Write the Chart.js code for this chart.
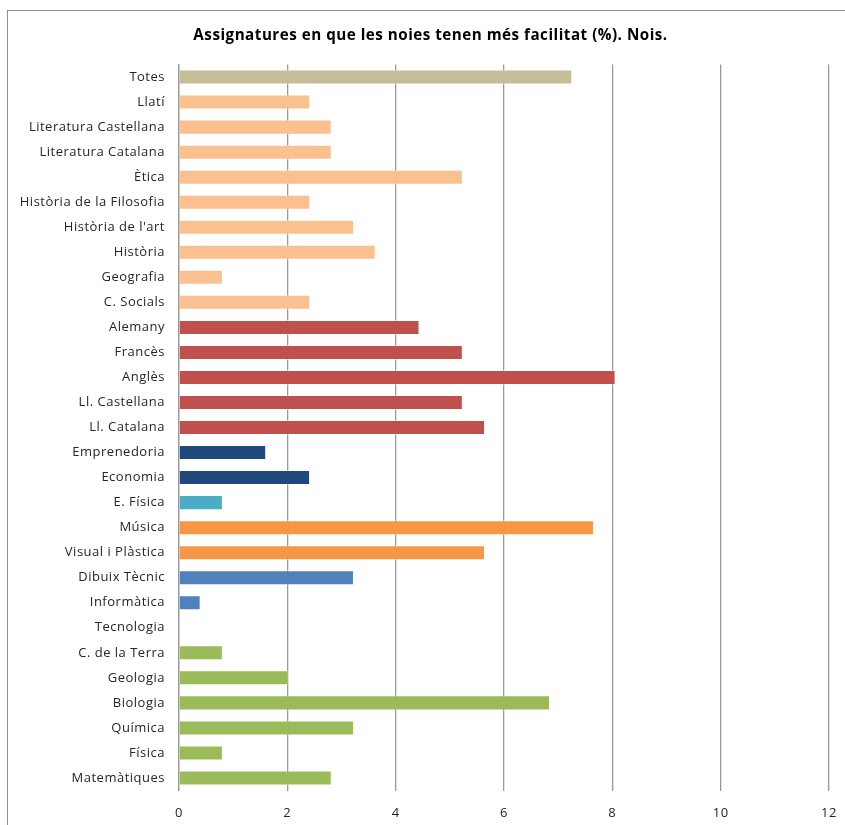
<!DOCTYPE html>
<html>
<head>
<meta charset="utf-8">
<script src="https://cdn.jsdelivr.net/npm/chart.js@4/dist/chart.umd.min.js"></script>
<style>
  html, body { margin: 0; padding: 0; background: #fff; }
  #wrap { position: relative; width: 845px; height: 825px; overflow: hidden; }
  #frame { position: absolute; left: 7px; top: 10px; width: 900px; height: 900px; border: 1px solid #8f8f8f; box-sizing: border-box; }
  canvas { position: absolute; left: 0; top: 0; }
</style>
</head>
<body>
<div id="wrap">
  <div id="frame"></div>
  <canvas id="c" width="845" height="825"></canvas>
</div>
<script>
const categories = [
  "Totes", "Llatí", "Literatura Castellana", "Literatura Catalana", "Ètica",
  "Història de la Filosofia", "Història de l'art", "Història", "Geografia", "C. Socials",
  "Alemany", "Francès", "Anglès", "Ll. Castellana", "Ll. Catalana",
  "Emprenedoria", "Economia", "E. Física", "Música", "Visual i Plàstica",
  "Dibuix Tècnic", "Informàtica", "Tecnologia", "C. de la Terra", "Geologia",
  "Biologia", "Química", "Física", "Matemàtiques"
];
const values = [
  7.26, 2.42, 2.82, 2.82, 5.24,
  2.42, 3.23, 3.63, 0.81, 2.42,
  4.44, 5.24, 8.06, 5.24, 5.65,
  1.61, 2.42, 0.81, 7.66, 5.65,
  3.23, 0.40, 0, 0.81, 2.02,
  6.85, 3.23, 0.81, 2.82
];
const groups = [
  "total", "hum", "hum", "hum", "hum",
  "hum", "hum", "hum", "hum", "hum",
  "lang", "lang", "lang", "lang", "lang",
  "econ", "econ", "pe", "arts", "arts",
  "tech", "tech", "tech", "sci", "sci",
  "sci", "sci", "sci", "sci"
];
const groupColors = {
  total: "#C4BD97", hum: "#FAC090", lang: "#C0504D", econ: "#1F497D",
  pe: "#4BACC6", arts: "#F79646", tech: "#4F81BD", sci: "#9BBB59"
};
const xTicks = [0, 2, 4, 6, 8, 10, 12];
const titleText = "Assignatures en que les noies tenen més facilitat (%). Nois.";

const FONT = "'Open Sans', 'DejaVu Sans', sans-serif";

const tweakPlugin = {
  id: "tweak",
  afterLayout(chart) {
    if (chart.titleBlock) { chart.titleBlock.left = 32; chart.titleBlock.right = 829; }
  },
  beforeDraw(chart) { chart.ctx.letterSpacing = "0.5px"; }
};

new Chart(document.getElementById("c"), {
  type: "bar",
  data: {
    labels: categories,
    datasets: [{
      data: values,
      backgroundColor: groups.map(g => groupColors[g]),
      borderColor: "rgba(255,255,255,0.45)",
      borderWidth: 1,
      barPercentage: 0.6,
      categoryPercentage: 1.0
    }]
  },
  plugins: [tweakPlugin],
  options: {
    indexAxis: "y",
    responsive: false,
    animation: false,
    devicePixelRatio: 1,
    layout: { padding: { left: 0, right: 16, top: 0, bottom: 0 } },
    plugins: {
      legend: { display: false },
      tooltip: { enabled: false },
      title: {
        display: true,
        text: titleText,
        color: "#000",
        font: { family: FONT, size: 15.2, weight: "bold", lineHeight: 1.2 },
        padding: { top: 26.5, bottom: 19.8 }
      }
    },
    scales: {
      x: {
        min: 0, max: 12,
        afterBuildTicks: s => { s.ticks = xTicks.map(v => ({ value: v })); },
        afterFit: s => { s.height = 34.5; s.paddingLeft = 0; s.paddingRight = 0; },
        grid: { color: "#9a9a9a", lineWidth: 1.3, drawTicks: false },
        border: { display: false },
        ticks: { color: "#262626", font: { family: FONT, size: 13 }, padding: 14.5 }
      },
      y: {
        afterFit: s => { s.width = 179; s.paddingTop = 0; s.paddingBottom = 0; },
        grid: { display: false, drawTicks: false },
        border: { display: true, color: "#9a9a9a", width: 1.3 },
        ticks: { color: "#262626", font: { family: FONT, size: 13 }, padding: 14, autoSkip: false }
      }
    }
  }
});
</script>
</body>
</html>
